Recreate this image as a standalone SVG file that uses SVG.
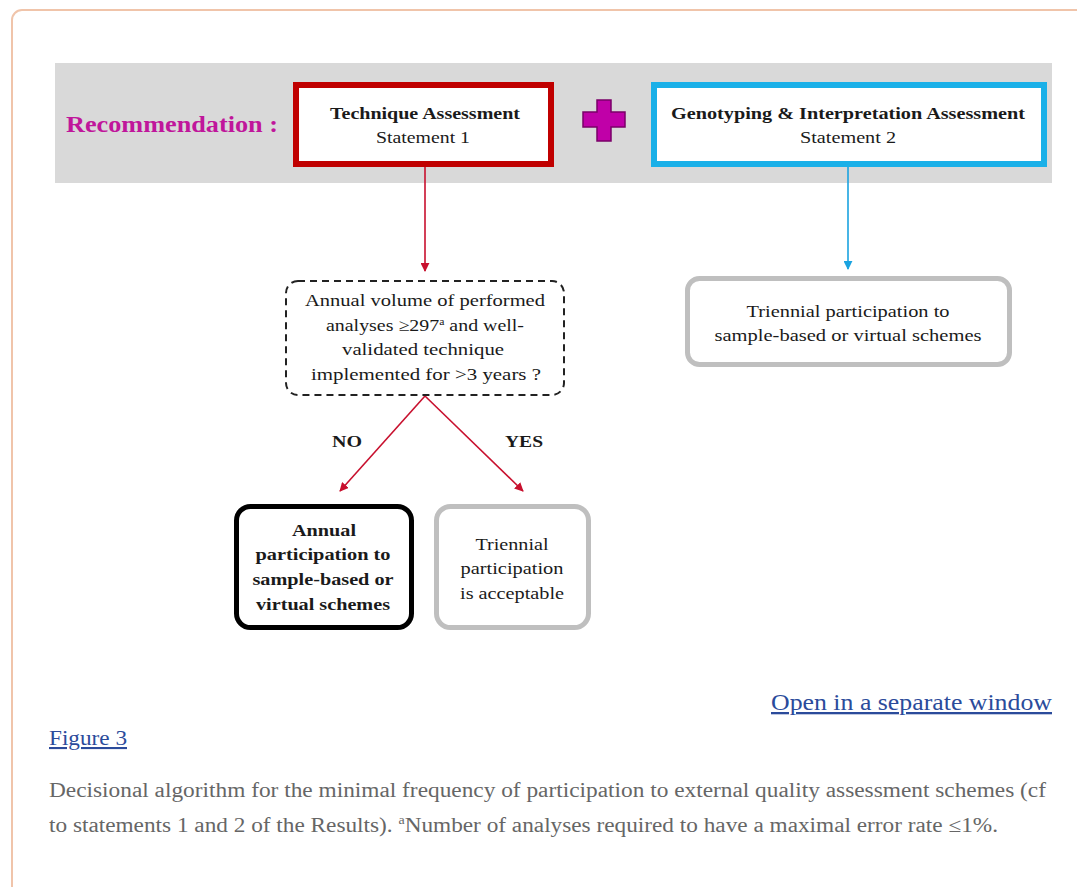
<svg xmlns="http://www.w3.org/2000/svg" width="1077" height="887" viewBox="0 0 1077 887">
<defs>
<style>
.t{font-family:'Liberation Serif',Tinos,'Times New Roman',Times,'DejaVu Serif',serif;fill:#1a1a1a;text-anchor:middle}
.b{font-weight:bold}
.s17{font-size:17px}
.cap{font-family:'Liberation Serif',Tinos,'Times New Roman',Times,'DejaVu Serif',serif;font-size:20px;fill:#666666}
.lnk{font-family:'Liberation Serif',Tinos,'Times New Roman',Times,'DejaVu Serif',serif;fill:#2b4b9b;text-decoration:underline}
.rec{font-family:'Liberation Serif',Tinos,'Times New Roman',Times,'DejaVu Serif',serif;font-size:24px;font-weight:bold;fill:#c0169b}
.conn{fill:none;stroke-width:1.6}
</style>
<marker id="ar" viewBox="0 0 10 10" refX="9" refY="5" markerWidth="9" markerHeight="9" markerUnits="userSpaceOnUse" orient="auto">
<path d="M0,0 L10,5 L0,10 Z" fill="#c8102e"/>
</marker>
<marker id="ab" viewBox="0 0 10 10" refX="9" refY="5" markerWidth="9" markerHeight="9" markerUnits="userSpaceOnUse" orient="auto">
<path d="M0,0 L10,5 L0,10 Z" fill="#1aa3e0"/>
</marker>
</defs>
<rect x="0" y="0" width="1077" height="887" fill="#ffffff"/>
<rect x="12" y="10" width="1090" height="900" rx="10" fill="none" stroke="#f0c4aa" stroke-width="2"/>
<rect x="55" y="63" width="997" height="120" fill="#d9d9d9"/>
<text class="rec" x="66" y="132" textLength="212" lengthAdjust="spacingAndGlyphs">Recommendation :</text>

<g id="connectors">
<line class="conn" x1="425" y1="167" x2="425" y2="271" stroke="#c8102e" marker-end="url(#ar)"/>
<line class="conn" x1="848" y1="167" x2="848" y2="269" stroke="#1aa3e0" marker-end="url(#ab)"/>
<line class="conn" x1="425" y1="396" x2="340" y2="491" stroke="#c8102e" marker-end="url(#ar)"/>
<line class="conn" x1="425" y1="396" x2="523" y2="491" stroke="#c8102e" marker-end="url(#ar)"/>
</g>

<g id="technique">
<rect x="296" y="85" width="255" height="79" fill="#ffffff" stroke="#c00000" stroke-width="6"/>
<text class="t b s17" x="425" y="119" textLength="190" lengthAdjust="spacingAndGlyphs">Technique Assessment</text>
<text class="t s17" x="423" y="143" textLength="94" lengthAdjust="spacingAndGlyphs">Statement 1</text>
</g>

<g id="plus">
<path d="M597,100 H611 V112 H625 V127 H611 V141 H597 V127 H583 V112 H597 Z" fill="#c000a8" stroke="#7a0068" stroke-width="1.5"/>
</g>

<g id="genotyping">
<rect x="654" y="85" width="390" height="79" fill="#ffffff" stroke="#1ab0e8" stroke-width="6"/>
<text class="t b s17" x="848" y="119" textLength="354" lengthAdjust="spacingAndGlyphs">Genotyping &amp; Interpretation Assessment</text>
<text class="t s17" x="848" y="143" textLength="96" lengthAdjust="spacingAndGlyphs">Statement 2</text>
</g>

<g id="decision">
<rect x="286" y="281" width="278" height="114" rx="12" fill="#ffffff" stroke="#222222" stroke-width="2" stroke-dasharray="7,5"/>
<text class="t s17" x="425" y="306" textLength="240" lengthAdjust="spacingAndGlyphs">Annual volume of performed</text>
<text class="t s17" x="425" y="331" textLength="198" lengthAdjust="spacingAndGlyphs">analyses ≥297<tspan font-size="10" dy="-6">a</tspan><tspan dy="6"> and well-</tspan></text>
<text class="t s17" x="423" y="355" textLength="162" lengthAdjust="spacingAndGlyphs">validated technique</text>
<text class="t s17" x="426" y="380" textLength="230" lengthAdjust="spacingAndGlyphs">implemented for &gt;3 years ?</text>
</g>

<g id="label-no"><text class="t b s17" x="347" y="447" textLength="30" lengthAdjust="spacingAndGlyphs">NO</text></g>
<g id="label-yes"><text class="t b s17" x="524" y="447" textLength="38" lengthAdjust="spacingAndGlyphs">YES</text></g>

<g id="annual">
<rect x="236.5" y="506.5" width="175" height="121" rx="14" fill="#ffffff" stroke="#000000" stroke-width="5"/>
<text class="t b s17" x="324" y="536" textLength="64" lengthAdjust="spacingAndGlyphs">Annual</text>
<text class="t b s17" x="323" y="560" textLength="135" lengthAdjust="spacingAndGlyphs">participation to</text>
<text class="t b s17" x="323" y="585" textLength="141" lengthAdjust="spacingAndGlyphs">sample-based or</text>
<text class="t b s17" x="323" y="610" textLength="134" lengthAdjust="spacingAndGlyphs">virtual schemes</text>
</g>

<g id="triennial-acceptable">
<rect x="436.5" y="506.5" width="152" height="121" rx="14" fill="#ffffff" stroke="#bfbfbf" stroke-width="5"/>
<text class="t s17" x="512" y="550" textLength="73" lengthAdjust="spacingAndGlyphs">Triennial</text>
<text class="t s17" x="512" y="574" textLength="103" lengthAdjust="spacingAndGlyphs">participation</text>
<text class="t s17" x="512" y="599" textLength="104" lengthAdjust="spacingAndGlyphs">is acceptable</text>
</g>

<g id="triennial-schemes">
<rect x="687.5" y="278.5" width="322" height="86" rx="12" fill="#ffffff" stroke="#bfbfbf" stroke-width="5"/>
<text class="t s17" x="848" y="317" textLength="203" lengthAdjust="spacingAndGlyphs">Triennial participation to</text>
<text class="t s17" x="848" y="341" textLength="267" lengthAdjust="spacingAndGlyphs">sample-based or virtual schemes</text>
</g>

<text class="lnk" x="771" y="710" font-size="23" textLength="281" lengthAdjust="spacingAndGlyphs">Open in a separate window</text>
<text class="lnk" x="49" y="745" font-size="21" textLength="78" lengthAdjust="spacingAndGlyphs">Figure 3</text>
<text class="cap" x="49" y="797" textLength="997" lengthAdjust="spacingAndGlyphs">Decisional algorithm for the minimal frequency of participation to external quality assessment schemes (cf</text>
<text class="cap" x="49" y="832" textLength="949" lengthAdjust="spacingAndGlyphs">to statements 1 and 2 of the Results). <tspan font-size="12" dy="-8">a</tspan><tspan dy="8">Number of analyses required to have a maximal error rate ≤1%.</tspan></text>
</svg>
